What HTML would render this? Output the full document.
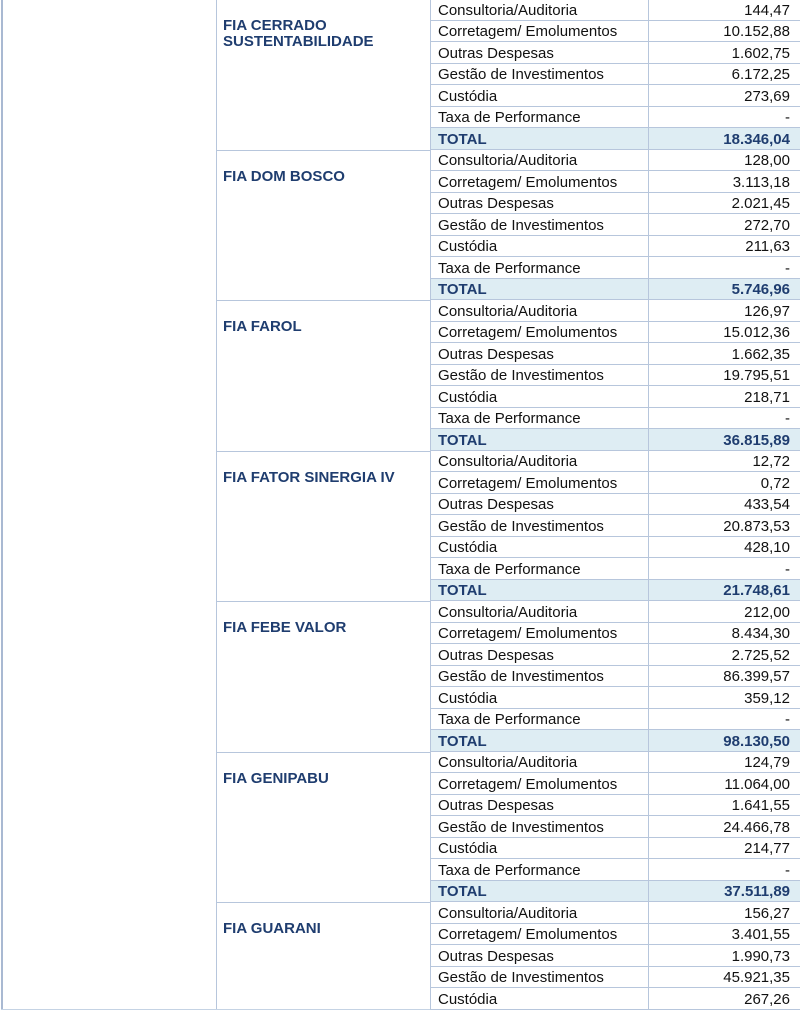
<!DOCTYPE html>
<html><head><meta charset="utf-8">
<style>
html,body{margin:0;padding:0;background:#fff;}
body{width:800px;height:1011px;position:relative;overflow:hidden;font-family:"Liberation Sans",Arial,sans-serif;}
.vl{position:absolute;top:0;height:1010px;width:1px;background:#b7c6dc;}
.bl{position:absolute;left:216px;width:215px;height:1px;background:#b7c6dc;}
.r{position:absolute;left:431px;width:369px;height:21.5px;box-sizing:border-box;border-bottom:1px solid #b7c6dc;font-size:15px;color:#111;}
.r .a{position:absolute;left:7px;top:1.5px;line-height:20px;white-space:nowrap;}
.r .b{position:absolute;right:10px;top:1.5px;line-height:20px;white-space:nowrap;}
.t{background:#deedf3;font-weight:bold;color:#1f3d6f;}
.f{position:absolute;left:223px;width:200px;font-size:15px;font-weight:bold;color:#1f3d6f;line-height:16px;}
</style></head><body>
<div style="position:absolute;left:1px;top:0;width:2px;height:1010px;background:#a9b9d2;"></div>
<div class="vl" style="left:216px"></div>
<div class="vl" style="left:430px"></div>
<div class="vl" style="left:648px"></div>
<div style="position:absolute;left:1px;top:1009px;width:799px;height:1px;background:#c5d3e4;"></div>

<div class="bl" style="top:149.7px"></div>
<div class="bl" style="top:300.2px"></div>
<div class="bl" style="top:450.7px"></div>
<div class="bl" style="top:601.2px"></div>
<div class="bl" style="top:751.7px"></div>
<div class="bl" style="top:902.2px"></div>

<div class="f" style="top:18.2px">FIA CERRADO<br>SUSTENTABILIDADE</div>
<div class="f" style="top:168.7px">FIA DOM BOSCO</div>
<div class="f" style="top:319.2px">FIA FAROL</div>
<div class="f" style="top:469.7px">FIA FATOR SINERGIA IV</div>
<div class="f" style="top:620.2px">FIA FEBE VALOR</div>
<div class="f" style="top:770.7px">FIA GENIPABU</div>
<div class="f" style="top:921.2px">FIA GUARANI</div>

<div class="r" style="top:-0.8px"><span class="a">Consultoria/Auditoria</span><span class="b">144,47</span></div>
<div class="r" style="top:20.7px"><span class="a">Corretagem/ Emolumentos</span><span class="b">10.152,88</span></div>
<div class="r" style="top:42.2px"><span class="a">Outras Despesas</span><span class="b">1.602,75</span></div>
<div class="r" style="top:63.7px"><span class="a">Gestão de Investimentos</span><span class="b">6.172,25</span></div>
<div class="r" style="top:85.2px"><span class="a">Custódia</span><span class="b">273,69</span></div>
<div class="r" style="top:106.7px"><span class="a">Taxa de Performance</span><span class="b">-</span></div>
<div class="r t" style="top:128.2px"><span class="a">TOTAL</span><span class="b">18.346,04</span></div>

<div class="r" style="top:149.7px"><span class="a">Consultoria/Auditoria</span><span class="b">128,00</span></div>
<div class="r" style="top:171.2px"><span class="a">Corretagem/ Emolumentos</span><span class="b">3.113,18</span></div>
<div class="r" style="top:192.7px"><span class="a">Outras Despesas</span><span class="b">2.021,45</span></div>
<div class="r" style="top:214.2px"><span class="a">Gestão de Investimentos</span><span class="b">272,70</span></div>
<div class="r" style="top:235.7px"><span class="a">Custódia</span><span class="b">211,63</span></div>
<div class="r" style="top:257.2px"><span class="a">Taxa de Performance</span><span class="b">-</span></div>
<div class="r t" style="top:278.7px"><span class="a">TOTAL</span><span class="b">5.746,96</span></div>

<div class="r" style="top:300.2px"><span class="a">Consultoria/Auditoria</span><span class="b">126,97</span></div>
<div class="r" style="top:321.7px"><span class="a">Corretagem/ Emolumentos</span><span class="b">15.012,36</span></div>
<div class="r" style="top:343.2px"><span class="a">Outras Despesas</span><span class="b">1.662,35</span></div>
<div class="r" style="top:364.7px"><span class="a">Gestão de Investimentos</span><span class="b">19.795,51</span></div>
<div class="r" style="top:386.2px"><span class="a">Custódia</span><span class="b">218,71</span></div>
<div class="r" style="top:407.7px"><span class="a">Taxa de Performance</span><span class="b">-</span></div>
<div class="r t" style="top:429.2px"><span class="a">TOTAL</span><span class="b">36.815,89</span></div>

<div class="r" style="top:450.7px"><span class="a">Consultoria/Auditoria</span><span class="b">12,72</span></div>
<div class="r" style="top:472.2px"><span class="a">Corretagem/ Emolumentos</span><span class="b">0,72</span></div>
<div class="r" style="top:493.7px"><span class="a">Outras Despesas</span><span class="b">433,54</span></div>
<div class="r" style="top:515.2px"><span class="a">Gestão de Investimentos</span><span class="b">20.873,53</span></div>
<div class="r" style="top:536.7px"><span class="a">Custódia</span><span class="b">428,10</span></div>
<div class="r" style="top:558.2px"><span class="a">Taxa de Performance</span><span class="b">-</span></div>
<div class="r t" style="top:579.7px"><span class="a">TOTAL</span><span class="b">21.748,61</span></div>

<div class="r" style="top:601.2px"><span class="a">Consultoria/Auditoria</span><span class="b">212,00</span></div>
<div class="r" style="top:622.7px"><span class="a">Corretagem/ Emolumentos</span><span class="b">8.434,30</span></div>
<div class="r" style="top:644.2px"><span class="a">Outras Despesas</span><span class="b">2.725,52</span></div>
<div class="r" style="top:665.7px"><span class="a">Gestão de Investimentos</span><span class="b">86.399,57</span></div>
<div class="r" style="top:687.2px"><span class="a">Custódia</span><span class="b">359,12</span></div>
<div class="r" style="top:708.7px"><span class="a">Taxa de Performance</span><span class="b">-</span></div>
<div class="r t" style="top:730.2px"><span class="a">TOTAL</span><span class="b">98.130,50</span></div>

<div class="r" style="top:751.7px"><span class="a">Consultoria/Auditoria</span><span class="b">124,79</span></div>
<div class="r" style="top:773.2px"><span class="a">Corretagem/ Emolumentos</span><span class="b">11.064,00</span></div>
<div class="r" style="top:794.7px"><span class="a">Outras Despesas</span><span class="b">1.641,55</span></div>
<div class="r" style="top:816.2px"><span class="a">Gestão de Investimentos</span><span class="b">24.466,78</span></div>
<div class="r" style="top:837.7px"><span class="a">Custódia</span><span class="b">214,77</span></div>
<div class="r" style="top:859.2px"><span class="a">Taxa de Performance</span><span class="b">-</span></div>
<div class="r t" style="top:880.7px"><span class="a">TOTAL</span><span class="b">37.511,89</span></div>

<div class="r" style="top:902.2px"><span class="a">Consultoria/Auditoria</span><span class="b">156,27</span></div>
<div class="r" style="top:923.7px"><span class="a">Corretagem/ Emolumentos</span><span class="b">3.401,55</span></div>
<div class="r" style="top:945.2px"><span class="a">Outras Despesas</span><span class="b">1.990,73</span></div>
<div class="r" style="top:966.7px"><span class="a">Gestão de Investimentos</span><span class="b">45.921,35</span></div>
<div class="r" style="top:988.2px"><span class="a">Custódia</span><span class="b">267,26</span></div>

<div class="vl" style="left:430px;z-index:2"></div>
<div class="vl" style="left:648px;z-index:2"></div>
</body></html>
